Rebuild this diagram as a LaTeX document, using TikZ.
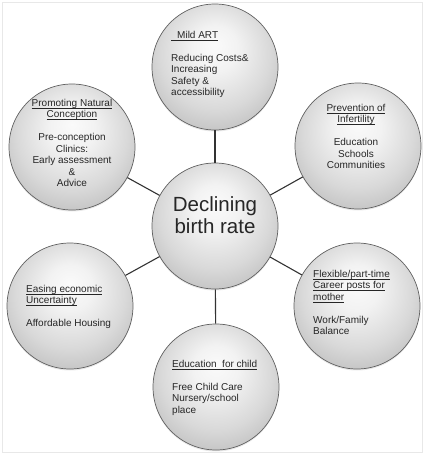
\documentclass[tikz,border=0pt]{standalone}
\usepackage{fontspec}
\setmainfont{Liberation Sans}
\usetikzlibrary{shadows}
\newcommand{\myul}[1]{\setbox0=\hbox{#1}\rlap{\rule[-1.7pt]{\wd0}{0.5pt}}\box0}
\pgfdeclareradialshading{ballsh}{\pgfpoint{0bp}{9bp}}{%
  color(0bp)=(gray!4); color(9bp)=(gray!10); color(22bp)=(gray!30);
  color(34bp)=(gray!55); color(50bp)=(gray!60)}
\tikzset{
  ball/.style={circle, minimum size=126pt, inner sep=0pt, draw=gray!75!black,
    line width=0.7pt, shading=ballsh,
    drop shadow={opacity=0.18, shadow xshift=0pt, shadow yshift=-1.5pt}},
  link/.style={draw=black!80, line width=1.1pt},
  txt/.style={inner sep=0pt, font=\fontsize{10}{11.5}\selectfont, text=black!85},
  bigtxt/.style={inner sep=0pt, font=\fontsize{20.5}{22}\selectfont, align=center, text=black!85},
}
\begin{document}
\begin{tikzpicture}[x=1pt, y=-1pt]
\useasboundingbox (0,0) rectangle (425,455);
\draw[gray!18, line width=1pt] (2.5,2) rectangle (422.5,452.5);
% circles
\node[ball] (c)  at (215,226) {};
\node[ball] (n)  at (215,67) {};
\node[ball] (nw) at (72,147) {};
\node[ball] (ne) at (358,146) {};
\node[ball] (sw) at (70,306) {};
\node[ball] (se) at (357,306) {};
\node[ball] (s)  at (216,387) {};
% connectors
\foreach \t in {n,nw,ne,sw,se,s} \draw[link] (c) -- (\t);
% texts
\node[bigtxt] (ct) at (215,215) {Declining\\birth rate};
\node[txt, align=left, anchor=north west] (tn) at (171,31)
  {\myul{\hspace{6pt}Mild ART}\\[11.5pt]Reducing Costs\&\\Increasing\\Safety \&\\accessibility};
\node[txt, align=center, anchor=north] (tnw) at (72,99)
  {\myul{Promoting Natural}\\\myul{Conception}\\[11.5pt]Pre-conception\\Clinics:\\Early assessment\\\&\\Advice};
\node[txt, align=center, anchor=north] (tne) at (356,104)
  {\myul{Prevention of}\\\myul{Infertility}\\[11.5pt]Education\\Schools\\Communities};
\node[txt, align=left, anchor=north west] (tsw) at (26,285)
  {\myul{Easing economic}\\\myul{Uncertainty}\\[11.5pt]Affordable Housing};
\node[txt, align=left, anchor=north west] (tse) at (313,270)
  {\myul{Flexible/part-time}\\\myul{Career posts for}\\\myul{mother}\\[11.5pt]Work/Family\\Balance};
\node[txt, align=left, anchor=north west] (ts) at (172,360)
  {\myul{Education\ \ for child}\\[11.5pt]Free Child Care\\Nursery/school\\place};
\end{tikzpicture}
\end{document}
